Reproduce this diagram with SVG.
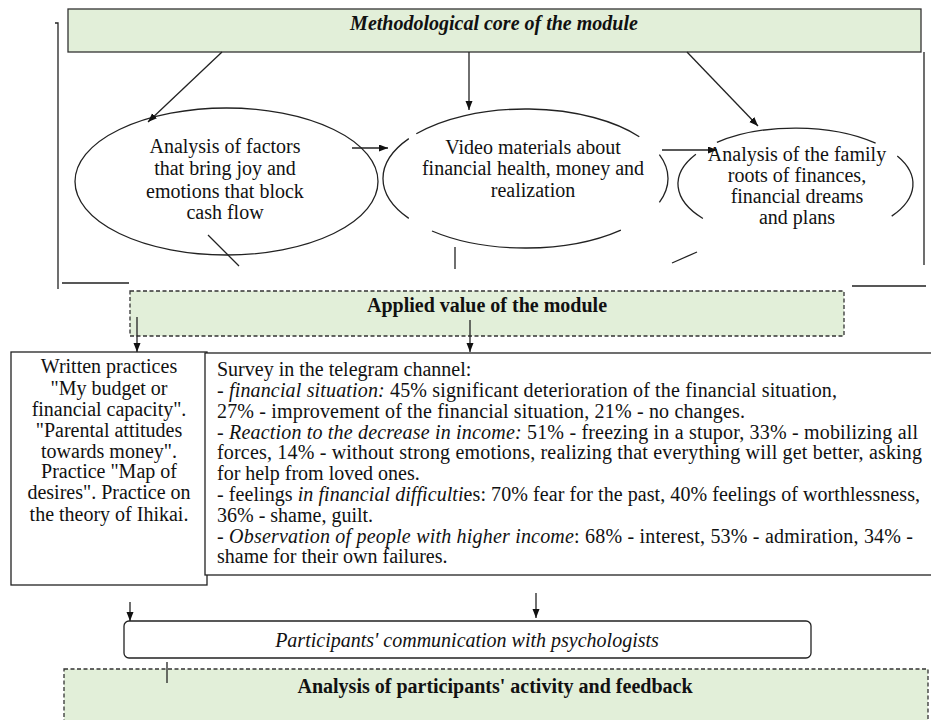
<svg xmlns="http://www.w3.org/2000/svg" width="931" height="720" viewBox="0 0 931 720">
<style>
text{font-size:20px;fill:#111}
.c{text-anchor:middle}
.ln{stroke:#222;stroke-width:1.3;fill:none}
.solid{fill:#fff;stroke:#222;stroke-width:1.3}
.green{fill:#e2efd9;stroke:#333;stroke-width:1.3}
.dash{fill:#e2efd9;stroke:#333;stroke-width:1.3;stroke-dasharray:4 2.5}
.b{font-weight:bold}
.i{font-style:italic}
</style>
<defs>
<marker id="ah" markerUnits="userSpaceOnUse" markerWidth="10" markerHeight="8" refX="9" refY="3.5" orient="auto">
<path d="M0,0 L9,3.5 L0,7 z" fill="#111"/>
</marker>
</defs>
<rect width="931" height="720" fill="#fff"/>

<g id="brackets">
<path class="ln" d="M55,23 H58 V289 M62,283 H129"/>
<path class="ln" d="M924,52 V265 M852,286 H926"/>
</g>

<g font-family="Liberation Serif, DejaVu Serif, Noto Serif, Times New Roman, serif">
<g id="core">
<rect class="green" x="68" y="9" width="853" height="43"/>
<text class="c b i" x="494" y="30">Methodological core of the module</text>
</g>

<g id="ellipse1">
<ellipse class="ln" cx="226.5" cy="181.5" rx="151.5" ry="73.5"/>
<text class="c" x="225" y="153">Analysis of factors</text>
<text class="c" x="225" y="175">that bring joy and</text>
<text class="c" x="225" y="198">emotions that block</text>
<text class="c" x="225" y="219">cash flow</text>
</g>

<g id="ellipse2">
<path class="ln" d="M408.8,138.6 A142.5,69.5 0 0 0 408.8,218.4"/>
<path class="ln" d="M416.3,133.8 A142.5,69.5 0 0 1 639.3,136.7"/>
<path class="ln" d="M659.4,154.7 A142.5,69.5 0 0 1 659.4,202.3"/>
<path class="ln" d="M620.9,230.1 A142.5,69.5 0 0 1 432,231"/>
<text class="c" x="533" y="154">Video materials  about</text>
<text class="c" x="533" y="175">financial health, money and</text>
<text class="c" x="533" y="197">realization</text>
</g>

<g id="ellipse3">
<path class="ln" d="M716.9,142.4 A117.5,56 0 0 1 875.6,143.1"/>
<path class="ln" d="M695.9,154.3 A117.5,56 0 0 0 702.9,218.5"/>
<path class="ln" d="M897.3,156 A117.5,56 0 0 1 891.7,216.1"/>
<text class="c" x="797" y="161">Analysis of the family</text>
<text class="c" x="797" y="182">roots of finances,</text>
<text class="c" x="797" y="203">financial dreams</text>
<text class="c" x="797" y="224">and plans</text>
</g>

<g id="applied">
<rect class="dash" x="130" y="291" width="714" height="45"/>
<text class="c b" x="487" y="312">Applied value of the module</text>
</g>

<g id="written">
<rect class="solid" x="11" y="352" width="196" height="233"/>
<text class="c" x="109" y="373">Written practices</text>
<text class="c" x="109" y="395">"My budget or</text>
<text class="c" x="109" y="416">financial capacity".</text>
<text class="c" x="109" y="437">"Parental attitudes</text>
<text class="c" x="109" y="458">towards money".</text>
<text class="c" x="109" y="478">Practice "Map of</text>
<text class="c" x="109" y="499">desires". Practice on</text>
<text class="c" x="109" y="521">the theory of Ihikai.</text>
</g>

<g id="survey">
<rect class="solid" x="205" y="353" width="740" height="222"/>
<text x="217" y="376">Survey in the telegram channel:</text>
<text x="217" y="397" textLength="620">- <tspan class="i">financial situation:</tspan> 45% significant deterioration of the financial situation,</text>
<text x="217" y="418" textLength="528">27% - improvement of the financial situation, 21% - no changes.</text>
<text x="217" y="439" textLength="701">- <tspan class="i">Reaction to the decrease in income:</tspan> 51% - freezing in a stupor, 33% - mobilizing all</text>
<text x="217" y="459" textLength="705">forces, 14% - without strong emotions, realizing that everything will get better, asking</text>
<text x="217" y="480">for help from loved ones.</text>
<text x="217" y="501" textLength="703">- feelings <tspan class="i">in financial difficulti</tspan>es: 70% fear for the past, 40% feelings of worthlessness,</text>
<text x="217" y="522">36% - shame, guilt.</text>
<text x="217" y="543" textLength="696">- <tspan class="i">Observation of people with higher income</tspan>: 68% - interest, 53% - admiration, 34% -</text>
<text x="217" y="563">shame for their own failures.</text>
</g>

<g id="communication">
<rect class="solid" x="124" y="621" width="687" height="37" rx="5"/>
<text class="c i" x="467" y="647">Participants' communication with psychologists</text>
</g>

<g id="analysis">
<rect class="dash" x="64" y="669" width="864" height="70"/>
<text class="c b" x="495" y="693">Analysis of participants' activity and feedback</text>
</g>
</g>

<g id="connectors">
<line class="ln" x1="222" y1="52" x2="148" y2="122" marker-end="url(#ah)"/>
<line class="ln" x1="469" y1="52" x2="469" y2="110" marker-end="url(#ah)"/>
<line class="ln" x1="687" y1="52" x2="758" y2="126" marker-end="url(#ah)"/>
<line class="ln" x1="352" y1="148" x2="388" y2="148" marker-end="url(#ah)"/>
<line class="ln" x1="662" y1="150" x2="717" y2="150" marker-end="url(#ah)"/>
<line class="ln" x1="137" y1="317" x2="137" y2="352" marker-end="url(#ah)"/>
<line class="ln" x1="470" y1="320" x2="470" y2="352" marker-end="url(#ah)"/>
<line class="ln" x1="130" y1="602" x2="130" y2="621" marker-end="url(#ah)"/>
<line class="ln" x1="536" y1="593" x2="536" y2="618" marker-end="url(#ah)"/>
<line class="ln" x1="208" y1="235" x2="239" y2="266"/>
<line class="ln" x1="455" y1="247" x2="455" y2="269"/>
<line class="ln" x1="672" y1="263" x2="697" y2="252"/>
<line class="ln" x1="167" y1="662" x2="167" y2="683"/>
</g>
</svg>
